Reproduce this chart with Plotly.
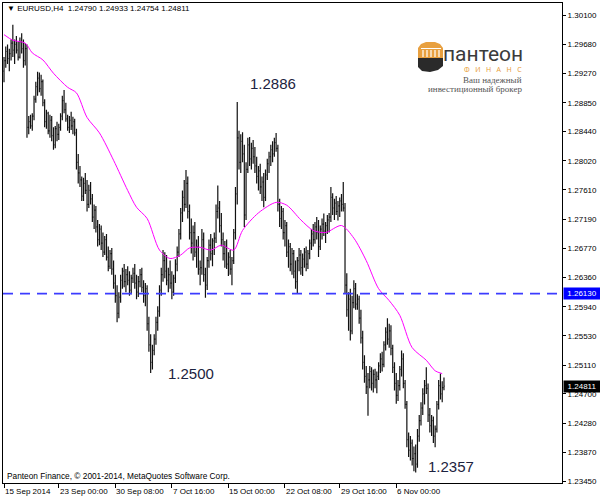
import plotly.graph_objects as go

# ---------------- data ----------------
bar_close = [
 1.2945,1.2958,1.2948,1.2955,1.2970,1.2960,1.2968,1.2960,1.2950,1.2972,
 1.2962,1.2945,1.2962,1.2850,1.2858,1.2852,1.2866,1.2890,1.2908,1.2920,
 1.2905,1.2915,1.2885,1.2858,1.2870,1.2845,1.2860,1.2838,1.2825,1.2848,
 1.2840,1.2850,1.2866,1.2888,1.2875,1.2862,1.2850,1.2860,1.2852,1.2858,
 1.2842,1.2800,1.2785,1.2775,1.2752,1.2770,1.2760,1.2740,1.2760,1.2748,
 1.2722,1.2732,1.2708,1.2690,1.2705,1.2685,1.2672,1.2690,1.2665,1.2652,
 1.2670,1.2648,1.2628,1.2610,1.2585,1.2608,1.2632,1.2645,1.2630,1.2640,
 1.2632,1.2618,1.2635,1.2642,1.2628,1.2615,1.2630,1.2640,1.2622,1.2610,
 1.2620,1.2570,1.2540,1.2515,1.2532,1.2548,1.2572,1.2588,1.2618,1.2640,
 1.2660,1.2645,1.2632,1.2640,1.2628,1.2615,1.2635,1.2655,1.2672,1.2698,
 1.2728,1.2750,1.2740,1.2770,1.2730,1.2700,1.2685,1.2700,1.2672,1.2680,
 1.2648,1.2650,1.2690,1.2640,1.2625,1.2660,1.2682,1.2670,1.2688,1.2692,
 1.2730,1.2735,1.2710,1.2690,1.2670,1.2680,1.2655,1.2665,1.2648,1.2660,
 1.2700,1.2755,1.2835,1.2800,1.2830,1.2812,1.2725,1.2790,1.2825,1.2805,
 1.2820,1.2808,1.2795,1.2780,1.2788,1.2765,1.2772,1.2750,1.2782,1.2798,
 1.2808,1.2818,1.2812,1.2828,1.2820,1.2740,1.2720,1.2730,1.2700,1.2710,
 1.2672,1.2680,1.2655,1.2670,1.2645,1.2630,1.2660,1.2668,1.2650,1.2662,
 1.2672,1.2655,1.2670,1.2685,1.2698,1.2690,1.2708,1.2700,1.2680,1.2705,
 1.2712,1.2702,1.2710,1.2718,1.2722,1.2750,1.2735,1.2742,1.2730,1.2738,
 1.2745,1.2740,1.2735,1.2625,1.2590,1.2605,1.2560,1.2600,1.2620,1.2598,
 1.2605,1.2578,1.2550,1.2515,1.2495,1.2480,1.2490,1.2502,1.2485,1.2498,
 1.2490,1.2495,1.2510,1.2520,1.2512,1.2540,1.2558,1.2548,1.2560,1.2535,
 1.2508,1.2485,1.2468,1.2482,1.2505,1.2520,1.2485,1.2455,1.2405,1.2390,
 1.2400,1.2378,1.2385,1.2370,1.2410,1.2432,1.2450,1.2470,1.2482,1.2478,
 1.2440,1.2425,1.2432,1.2410,1.2420,1.2455,1.2482,1.2470,1.2479,1.24811,
]
bar_open = [
 1.2930,1.2945,1.2958,1.2948,1.2955,1.2970,1.2960,1.2968,1.2960,1.2950,
 1.2972,1.2962,1.2945,1.2962,1.2850,1.2858,1.2852,1.2866,1.2890,1.2908,
 1.2920,1.2905,1.2915,1.2885,1.2858,1.2870,1.2845,1.2860,1.2838,1.2825,
 1.2848,1.2840,1.2850,1.2866,1.2888,1.2875,1.2862,1.2850,1.2860,1.2852,
 1.2858,1.2842,1.2800,1.2785,1.2775,1.2752,1.2770,1.2760,1.2740,1.2760,
 1.2748,1.2722,1.2732,1.2708,1.2690,1.2705,1.2685,1.2672,1.2690,1.2665,
 1.2652,1.2670,1.2648,1.2628,1.2610,1.2585,1.2608,1.2632,1.2645,1.2630,
 1.2640,1.2632,1.2618,1.2635,1.2642,1.2628,1.2615,1.2630,1.2640,1.2622,
 1.2610,1.2620,1.2570,1.2540,1.2515,1.2532,1.2548,1.2572,1.2588,1.2618,
 1.2640,1.2660,1.2645,1.2632,1.2640,1.2628,1.2615,1.2635,1.2655,1.2672,
 1.2698,1.2728,1.2750,1.2740,1.2770,1.2730,1.2700,1.2685,1.2700,1.2672,
 1.2680,1.2648,1.2650,1.2690,1.2640,1.2625,1.2660,1.2682,1.2670,1.2688,
 1.2692,1.2730,1.2735,1.2710,1.2690,1.2670,1.2680,1.2655,1.2665,1.2648,
 1.2660,1.2700,1.2755,1.2835,1.2800,1.2830,1.2812,1.2725,1.2790,1.2825,
 1.2805,1.2820,1.2808,1.2795,1.2780,1.2788,1.2765,1.2772,1.2750,1.2782,
 1.2798,1.2808,1.2818,1.2812,1.2828,1.2820,1.2740,1.2720,1.2730,1.2700,
 1.2710,1.2672,1.2680,1.2655,1.2670,1.2645,1.2630,1.2660,1.2668,1.2650,
 1.2662,1.2672,1.2655,1.2670,1.2685,1.2698,1.2690,1.2708,1.2700,1.2680,
 1.2705,1.2712,1.2702,1.2710,1.2718,1.2722,1.2750,1.2735,1.2742,1.2730,
 1.2738,1.2745,1.2740,1.2735,1.2625,1.2590,1.2605,1.2560,1.2600,1.2620,
 1.2598,1.2605,1.2578,1.2550,1.2515,1.2495,1.2480,1.2490,1.2502,1.2485,
 1.2498,1.2490,1.2495,1.2510,1.2520,1.2512,1.2540,1.2558,1.2548,1.2560,
 1.2535,1.2508,1.2485,1.2468,1.2482,1.2505,1.2520,1.2485,1.2455,1.2405,
 1.2390,1.2400,1.2378,1.2385,1.2370,1.2410,1.2432,1.2450,1.2470,1.2482,
 1.2478,1.2440,1.2425,1.2432,1.2410,1.2420,1.2455,1.2482,1.2470,1.24790,
]
bar_high = [
 1.2950,1.2965,1.2968,1.2962,1.2975,1.2996,1.2975,1.2980,1.2972,1.2978,
 1.2984,1.2975,1.2970,1.2968,1.2866,1.2868,1.2870,1.2895,1.2915,1.2929,
 1.2928,1.2925,1.2918,1.2890,1.2875,1.2872,1.2868,1.2866,1.2850,1.2852,
 1.2858,1.2855,1.2870,1.2895,1.2903,1.2885,1.2868,1.2866,1.2872,1.2865,
 1.2862,1.2848,1.2812,1.2795,1.2780,1.2778,1.2785,1.2775,1.2768,1.2772,
 1.2755,1.2740,1.2738,1.2718,1.2712,1.2710,1.2700,1.2695,1.2698,1.2680,
 1.2675,1.2678,1.2660,1.2640,1.2625,1.2615,1.2640,1.2650,1.2655,1.2648,
 1.2652,1.2645,1.2640,1.2650,1.2655,1.2640,1.2638,1.2648,1.2650,1.2632,
 1.2628,1.2625,1.2580,1.2555,1.2540,1.2555,1.2580,1.2595,1.2625,1.2650,
 1.2675,1.2672,1.2668,1.2650,1.2660,1.2645,1.2640,1.2662,1.2680,1.2705,
 1.2735,1.2760,1.2775,1.2789,1.2780,1.2740,1.2720,1.2710,1.2715,1.2690,
 1.2695,1.2660,1.2705,1.2700,1.2650,1.2665,1.2690,1.2698,1.2692,1.2700,
 1.2740,1.2767,1.2745,1.2728,1.2700,1.2688,1.2690,1.2672,1.2675,1.2665,
 1.2705,1.2765,1.2886,1.2845,1.2840,1.2843,1.2825,1.2800,1.2835,1.2836,
 1.2828,1.2832,1.2822,1.2808,1.2795,1.2798,1.2780,1.2785,1.2790,1.2805,
 1.2815,1.2825,1.2830,1.2835,1.2842,1.2825,1.2748,1.2738,1.2735,1.2718,
 1.2715,1.2690,1.2685,1.2678,1.2675,1.2660,1.2665,1.2678,1.2675,1.2670,
 1.2678,1.2680,1.2675,1.2690,1.2705,1.2712,1.2715,1.2722,1.2718,1.2710,
 1.2720,1.2727,1.2715,1.2725,1.2728,1.2765,1.2756,1.2748,1.2752,1.2745,
 1.2750,1.2755,1.2772,1.2742,1.2642,1.2615,1.2620,1.2610,1.2632,1.2628,
 1.2612,1.2610,1.2590,1.2560,1.2525,1.2510,1.2500,1.2510,1.2508,1.2505,
 1.2506,1.2502,1.2515,1.2528,1.2530,1.2545,1.2565,1.2578,1.2570,1.2568,
 1.2540,1.2515,1.2500,1.2490,1.2510,1.2532,1.2528,1.2490,1.2460,1.2415,
 1.2410,1.2405,1.2395,1.2398,1.2420,1.2440,1.2458,1.2478,1.2490,1.2508,
 1.2485,1.2450,1.2440,1.2438,1.2425,1.2460,1.2490,1.2499,1.2488,1.24933,
]
bar_low = [
 1.2914,1.2935,1.2940,1.2930,1.2945,1.2950,1.2940,1.2955,1.2945,1.2948,
 1.2955,1.2935,1.2938,1.2835,1.2840,1.2848,1.2845,1.2860,1.2885,1.2895,
 1.2900,1.2895,1.2880,1.2850,1.2848,1.2840,1.2835,1.2830,1.2818,1.2820,
 1.2830,1.2832,1.2845,1.2860,1.2870,1.2858,1.2845,1.2842,1.2846,1.2840,
 1.2838,1.2790,1.2770,1.2765,1.2745,1.2745,1.2755,1.2730,1.2735,1.2740,
 1.2715,1.2705,1.2700,1.2680,1.2682,1.2675,1.2665,1.2668,1.2660,1.2645,
 1.2648,1.2640,1.2620,1.2600,1.2572,1.2578,1.2600,1.2620,1.2622,1.2615,
 1.2625,1.2610,1.2612,1.2628,1.2620,1.2605,1.2608,1.2622,1.2615,1.2600,
 1.2595,1.2560,1.2530,1.2500,1.2505,1.2525,1.2540,1.2560,1.2580,1.2610,
 1.2630,1.2635,1.2625,1.2615,1.2620,1.2605,1.2610,1.2628,1.2645,1.2665,
 1.2690,1.2715,1.2730,1.2735,1.2720,1.2690,1.2670,1.2660,1.2665,1.2650,
 1.2640,1.2625,1.2640,1.2630,1.2607,1.2618,1.2650,1.2660,1.2652,1.2668,
 1.2685,1.2720,1.2700,1.2680,1.2660,1.2650,1.2648,1.2638,1.2640,1.2625,
 1.2655,1.2690,1.2740,1.2790,1.2785,1.2800,1.2708,1.2718,1.2785,1.2795,
 1.2790,1.2798,1.2785,1.2770,1.2760,1.2755,1.2745,1.2736,1.2745,1.2775,
 1.2785,1.2795,1.2800,1.2808,1.2815,1.2730,1.2708,1.2705,1.2690,1.2680,
 1.2665,1.2650,1.2645,1.2640,1.2635,1.2620,1.2613,1.2645,1.2640,1.2638,
 1.2650,1.2645,1.2648,1.2662,1.2675,1.2680,1.2684,1.2690,1.2665,1.2675,
 1.2690,1.2695,1.2685,1.2698,1.2700,1.2715,1.2725,1.2718,1.2725,1.2717,
 1.2722,1.2730,1.2730,1.2613,1.2580,1.2560,1.2546,1.2555,1.2592,1.2590,
 1.2590,1.2570,1.2542,1.2505,1.2486,1.2470,1.2439,1.2478,1.2475,1.2472,
 1.2478,1.2471,1.2490,1.2500,1.2502,1.2508,1.2532,1.2540,1.2536,1.2525,
 1.2500,1.2475,1.2456,1.2460,1.2475,1.2495,1.2478,1.2449,1.2394,1.2380,
 1.2375,1.2368,1.2360,1.2358,1.2365,1.2402,1.2425,1.2440,1.2455,1.2470,
 1.2430,1.2415,1.2410,1.2400,1.2394,1.2415,1.2448,1.2462,1.2458,1.24754,
]
bar_index = list(range(len(bar_close)))

# moving average (magenta), read at selected bars
ma_index = [0,5,12,16,22,28,36,41,47,54,62,70,75,81,88,94,100,105,111,117,
            123,130,135,144,154,160,168,175,182,191,198,205,212,218,224,231,239,244,248]
ma_value = [1.2982,1.2974,1.2970,1.2956,1.2946,1.2927,1.2907,1.2899,1.2864,1.2842,
            1.2803,1.2760,1.2736,1.2720,1.2675,1.2663,1.2668,1.2678,1.2679,1.2675,
            1.2682,1.2675,1.2703,1.2728,1.2743,1.2739,1.2718,1.2703,1.2700,1.2710,
            1.2692,1.2660,1.2620,1.2603,1.2582,1.2536,1.2518,1.2503,1.2499]

level_price = 1.26130
last_price = 1.24811

y_ticks = [1.30100,1.29680,1.29270,1.28850,1.28440,1.28020,1.27610,1.27190,1.26770,
           1.26360,1.25940,1.25530,1.25110,1.24700,1.24280,1.23870,1.23450]
x_tick_index = [0,31,63,95,127,159,190,222]
x_tick_text = ["15 Sep 2014","23 Sep 00:00","30 Sep 08:00","7 Oct 16:00",
               "15 Oct 00:00","22 Oct 08:00","29 Oct 16:00","6 Nov 00:00"]

callouts = [("1.2886", 152, 1.2912), ("1.2500", 106, 1.2499), ("1.2357", 253, 1.2366)]

# ---------------- figure ----------------
W, H = 600, 499
L, R, T, B = 3, 38, 3, 16
PL, PR, PT, PB = L, W - R, T, H - B

def px(x):
    return (x - PL) / (PR - PL)

def py(y):
    return (PB - y) / (PB - PT)

FONT = "Liberation Sans, Arial, sans-serif"

fig = go.Figure()
fig.add_trace(go.Ohlc(
    x=bar_index, open=bar_open, high=bar_high, low=bar_low, close=bar_close,
    increasing=dict(line=dict(color="#111111", width=1.2)),
    decreasing=dict(line=dict(color="#111111", width=1.2)),
    tickwidth=0.45, hoverinfo="skip", showlegend=False))
fig.add_trace(go.Scatter(
    x=ma_index, y=ma_value, mode="lines", line=dict(color="#ff00ff", width=1, shape="spline", smoothing=0.8),
    hoverinfo="skip", showlegend=False))

fig.add_shape(type="line", xref="paper", x0=0, x1=1, yref="y", y0=level_price, y1=level_price,
              line=dict(color="rgb(60,60,255)", width=1.6, dash="10px,7px"))

annotations = []
for t, xi, yv in callouts:
    annotations.append(dict(x=xi, y=yv, xref="x", yref="y", text=t, showarrow=False,
                            font=dict(family=FONT, size=15, color="#1c2340")))
for xi, t in zip(x_tick_index, x_tick_text):
    annotations.append(dict(x=xi, y=0, xref="x", yref="paper", text=t, showarrow=False,
                            xanchor="left", yanchor="middle", yshift=-8, xshift=-1,
                            font=dict(family=FONT, size=8, color="#000")))
# price boxes on the right axis
annotations.append(dict(x=1, y=level_price, xref="paper", yref="y", text="1.26130", showarrow=False,
                        xanchor="left", yanchor="middle", xshift=1, bgcolor="#0000ff",
                        font=dict(family=FONT, size=8, color="#fff"), borderpad=1, width=34))
annotations.append(dict(x=1, y=last_price, xref="paper", yref="y", text="1.24811", showarrow=False,
                        xanchor="left", yanchor="middle", xshift=1, bgcolor="#000000",
                        font=dict(family=FONT, size=8, color="#fff"), borderpad=1, width=34))
# header and copyright
annotations.append(dict(x=px(5), y=py(9), xref="paper", yref="paper", showarrow=False,
                        text="\u25bc EURUSD,H4  1.24790 1.24933 1.24754 1.24811",
                        xanchor="left", yanchor="middle", font=dict(family=FONT, size=8, color="#000")))
annotations.append(dict(x=px(5), y=py(476), xref="paper", yref="paper", showarrow=False,
                        text="Panteon Finance, \u00a9 2001-2014, MetaQuotes Software Corp.",
                        xanchor="left", yanchor="middle", font=dict(family=FONT, size=8.3, color="#000")))
# logo texts
annotations.append(dict(x=px(525), y=py(54), xref="paper", yref="paper", showarrow=False,
                        text="пантеон", xanchor="right", yanchor="middle",
                        font=dict(family="Roboto, Noto Sans, sans-serif", size=21, color="#3b3b3b")))
annotations.append(dict(x=px(524), y=py(70), xref="paper", yref="paper", showarrow=False,
                        text="Ф   И   Н   А   Н   С", xanchor="right", yanchor="middle",
                        font=dict(family="Noto Sans, sans-serif", size=7, color="#e8a040")))
annotations.append(dict(x=px(524), y=py(80), xref="paper", yref="paper", showarrow=False,
                        text="Ваш надежный", xanchor="right", yanchor="middle",
                        font=dict(family="Liberation Serif, serif", size=9, color="#555")))
annotations.append(dict(x=px(524), y=py(89), xref="paper", yref="paper", showarrow=False,
                        text="инвестиционный брокер", xanchor="right", yanchor="middle",
                        font=dict(family="Liberation Serif, serif", size=9, color="#555")))

# logo emblem (decoration)
def ppath(points):
    s = "M %f %f " % (px(points[0][0]), py(points[0][1]))
    for p in points[1:]:
        s += "L %f %f " % (px(p[0]), py(p[1]))
    return s + "Z"

fig.add_shape(type="path", xref="paper", yref="paper", line=dict(width=0), fillcolor="#e8a040",
              path=ppath([(418,58),(418,48),(421,44),(426,42),(435,42),(440,44),(443,48),(443,58)]))
for cx in [423, 427, 431, 435, 439]:
    fig.add_shape(type="line", xref="paper", yref="paper", x0=px(cx), x1=px(cx), y0=py(50), y1=py(57),
                  line=dict(color="#ffffff", width=1.2))
fig.add_shape(type="line", xref="paper", yref="paper", x0=px(421), x1=px(441), y0=py(48.5), y1=py(48.5),
              line=dict(color="#ffffff", width=1))
fig.add_shape(type="path", xref="paper", yref="paper", line=dict(width=0), fillcolor="#2a2a2a",
              path=ppath([(418,58),(443,58),(443,66),(438,70),(430,72),(422,71),(418,67)]))

fig.update_layout(
    width=W, height=H, margin=dict(l=L, r=R, t=T, b=B),
    paper_bgcolor="#ffffff", plot_bgcolor="#ffffff",
    annotations=annotations,
    font=dict(family=FONT, size=8, color="#000"),
    xaxis=dict(range=[-0.57, 315.8], showgrid=False, zeroline=False, rangeslider=dict(visible=False),
               showline=True, linecolor="#000", linewidth=1, mirror=True,
               tickvals=x_tick_index, ticktext=[""] * len(x_tick_index), ticks="outside",
               ticklen=4, tickcolor="#000", showticklabels=False),
    yaxis=dict(range=[1.23431, 1.30271], side="right", showgrid=False, zeroline=False,
               showline=True, linecolor="#000", linewidth=1, mirror=True,
               tickvals=y_ticks, ticktext=["%.5f" % v for v in y_ticks], ticks="outside",
               ticklen=3, tickcolor="#000", tickfont=dict(family=FONT, size=8, color="#000")),
)

fig.write_html("out.html", config={"displayModeBar": False},
               post_script="document.body.style.margin='0';document.body.style.padding='0';"
                           "document.documentElement.style.overflow='hidden';")
